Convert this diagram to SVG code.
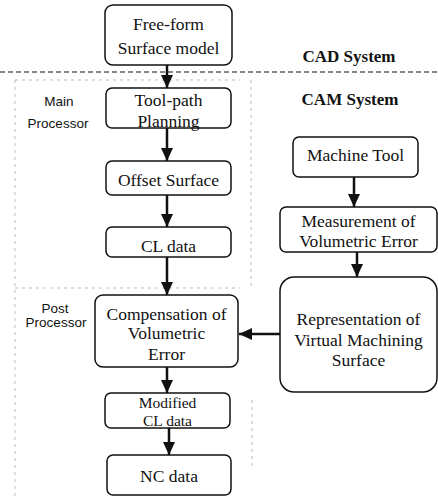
<svg xmlns="http://www.w3.org/2000/svg" width="438" height="497" viewBox="0 0 438 497">
<style>
.box{fill:#fff;stroke:#111;stroke-width:1.5}
.t{font-family:"Liberation Serif","Times New Roman",serif;font-size:17.5px;fill:#111;text-anchor:middle}
.t2{font-size:15.5px}
.h{font-family:"Liberation Serif","Times New Roman",serif;font-size:17px;font-weight:bold;fill:#111;text-anchor:middle}
.s{font-family:"Liberation Sans",Arial,sans-serif;font-size:13.5px;fill:#111;text-anchor:middle}
.c{stroke:#111;stroke-width:2.5;fill:none}
.sep{stroke:#111;stroke-width:1.2;stroke-dasharray:5 3;fill:none}
.faint{stroke:#bbb;stroke-width:1;stroke-dasharray:3 4;fill:none}
</style>
<defs>
<marker id="ah" markerUnits="userSpaceOnUse" markerWidth="14" markerHeight="14" viewBox="0 0 14 14" refX="13" refY="7" orient="auto">
<path d="M0,1 L13,7 L0,13 Z" fill="#111"/>
</marker>
</defs>
<rect width="438" height="497" fill="#fff"/>
<g id="separators">
<line class="sep" x1="0" y1="72" x2="438" y2="72"/>
<line class="faint" x1="15" y1="80" x2="240" y2="80"/>
<line class="faint" x1="15" y1="288" x2="240" y2="288"/>
<line class="faint" x1="15" y1="80" x2="15" y2="497"/>
<line class="faint" x1="251" y1="80" x2="251" y2="290"/>
<line class="faint" x1="252" y1="400" x2="252" y2="470"/>
</g>
<g id="labels">
<text class="h" x="349" y="62">CAD System</text>
<text class="h" x="350" y="105">CAM System</text>
<text class="s" x="59" y="106">Main</text>
<text class="s" x="58" y="128">Processor</text>
<text class="s" x="55" y="313">Post</text>
<text class="s" x="56" y="327">Processor</text>
</g>
<g id="connectors">
<line class="c" x1="167" y1="65" x2="167" y2="88" marker-end="url(#ah)"/>
<line class="c" x1="167" y1="128" x2="167" y2="161" marker-end="url(#ah)"/>
<line class="c" x1="167" y1="195" x2="167" y2="227" marker-end="url(#ah)"/>
<line class="c" x1="167" y1="257" x2="167" y2="295" marker-end="url(#ah)"/>
<line class="c" x1="167" y1="367" x2="167" y2="393" marker-end="url(#ah)"/>
<line class="c" x1="169" y1="428" x2="169" y2="455" marker-end="url(#ah)"/>
<line class="c" x1="354" y1="177" x2="354" y2="207" marker-end="url(#ah)"/>
<line class="c" x1="357" y1="252" x2="357" y2="277" marker-end="url(#ah)"/>
<line class="c" x1="280" y1="334" x2="239" y2="334" marker-end="url(#ah)"/>
</g>
<g id="n-freeform">
<rect class="box" x="105" y="5" width="127" height="60" rx="8"/>
<text class="t" x="168.5" y="30">Free-form</text>
<text class="t" x="168.5" y="54">Surface model</text>
</g>
<g id="n-toolpath">
<rect class="box" x="106" y="88" width="125" height="40" rx="6"/>
<text class="t" x="168.5" y="106">Tool-path</text>
<text class="t" x="168.5" y="127">Planning</text>
</g>
<g id="n-offset">
<rect class="box" x="106" y="161" width="125" height="34" rx="6"/>
<text class="t" x="168.5" y="186">Offset Surface</text>
</g>
<g id="n-cl">
<rect class="box" x="106" y="227" width="125" height="30" rx="6"/>
<text class="t" x="168.5" y="252">CL data</text>
</g>
<g id="n-comp">
<rect class="box" x="95" y="295" width="143" height="72" rx="8"/>
<text class="t" x="166.5" y="320">Compensation of</text>
<text class="t" x="166.5" y="339">Volumetric</text>
<text class="t" x="166.5" y="360">Error</text>
</g>
<g id="n-modified">
<rect class="box" x="105" y="393" width="125" height="35" rx="6"/>
<text class="t t2" x="167.5" y="408">Modified</text>
<text class="t t2" x="167.5" y="425.5">CL data</text>
</g>
<g id="n-nc">
<rect class="box" x="107" y="455" width="124" height="40" rx="6"/>
<text class="t" x="169" y="482">NC data</text>
</g>
<g id="n-machine">
<rect class="box" x="293" y="137" width="125" height="40" rx="6"/>
<text class="t" x="355.5" y="161">Machine Tool</text>
</g>
<g id="n-measure">
<rect class="box" x="280" y="207" width="157" height="45" rx="6"/>
<text class="t" x="358.5" y="227">Measurement of</text>
<text class="t" x="358.5" y="247">Volumetric Error</text>
</g>
<g id="n-repr">
<rect class="box" x="280" y="277" width="157" height="115" rx="14"/>
<text class="t" x="358.5" y="325">Representation of</text>
<text class="t" x="358.5" y="346">Virtual Machining</text>
<text class="t" x="358.5" y="366">Surface</text>
</g>
</svg>
